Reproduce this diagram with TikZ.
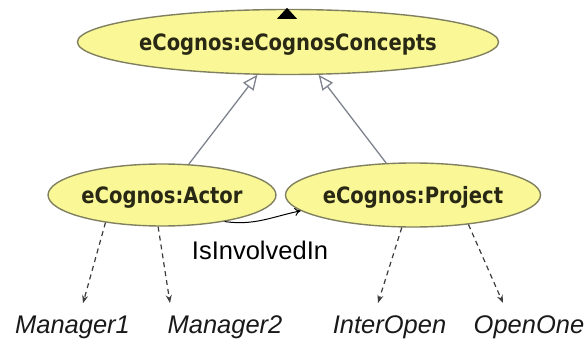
\documentclass[tikz,border=0pt]{standalone}
\usepackage{fontspec}
\usepackage{tikz}
\usepackage{xcolor}
\usetikzlibrary{arrows.meta}
\usetikzlibrary{shapes.geometric}

\setmainfont{Liberation Sans}
\newfontfamily\classfont[FakeStretch=0.87]{DejaVu Sans}

\definecolor{classfill}{RGB}{250,247,150}
\definecolor{classedge}{RGB}{128,128,96}
\definecolor{classtext}{RGB}{40,40,20}
\definecolor{isaline}{RGB}{125,130,140}
\definecolor{instline}{RGB}{60,60,60}

\begin{document}
\begin{tikzpicture}[x=1pt, y=1pt,
    classnode/.style={ellipse, draw=classedge, fill=classfill, line width=1.4pt, inner sep=0pt,
        text=classtext, font=\classfont\bfseries\fontsize{22.5}{24}\selectfont, text depth=0pt},
    indiv/.style={anchor=base, inner sep=0pt, text=black!90, font=\itshape\fontsize{25.5}{27}\selectfont},
    isa/.style={draw=isaline, line width=1.3pt, -{Triangle[open, length=15pt, width=13pt, line width=1.3pt]}},
    instanceof/.style={draw=instline, line width=1.2pt, dash pattern=on 5pt off 4pt, -{Stealth[length=8pt, width=6pt]}}]
    % Fix the page to the size of the reference (586 x 342)
    \useasboundingbox (0, 0) rectangle (586, -342);

    % Classes
    \node[classnode, minimum width=350pt, minimum height=65pt] (concepts) at (288, -42) {eCognos:eCognosConcepts};
    \node[classnode, minimum width=215pt, minimum height=62pt] (actor) at (162, -195) {eCognos:Actor};
    \node[classnode, minimum width=230pt, minimum height=64pt] (project) at (413, -195) {eCognos:Project};

    % Stub of the arrow above the top class
    \fill[black] (concepts.north) ++(-1, 1) -- ++(-10, -11) -- ++(20, 0) -- cycle;

    % Subclass links
    \draw[isa] (actor.49) -- (concepts.227);
    \draw[isa] (project.130) -- (concepts.313);

    % Property between the two subclasses
    \draw[line width=1pt, -{To[length=6pt, width=8pt]}] (actor.337) to[out=-8, in=192] (project.188);
    \node[anchor=base, inner sep=0pt, font=\fontsize{25.5}{27}\selectfont] (involved) at (260, -259) {IsInvolvedIn};

    % Individuals
    \node[indiv] (mgr1) at (72.5, -333) {Manager1};
    \node[indiv] (mgr2) at (225, -333) {Manager2};
    \node[indiv] (interopen) at (389.5, -333) {InterOpen};
    \node[indiv] (openone) at (529, -333) {OpenOne};

    % Instance links (dashed)
    \draw[instanceof] (actor.206) -- ([xshift=10.5pt, yshift=12pt]mgr1.north);
    \draw[instanceof] (actor.263) -- ([xshift=-55pt, yshift=12pt]mgr2.north);
    \draw[instanceof] (project.251) -- ([xshift=-11.5pt, yshift=12pt]interopen.north);
    \draw[instanceof] (project.332) -- ([xshift=-26pt, yshift=12pt]openone.north);
\end{tikzpicture}
\end{document}
